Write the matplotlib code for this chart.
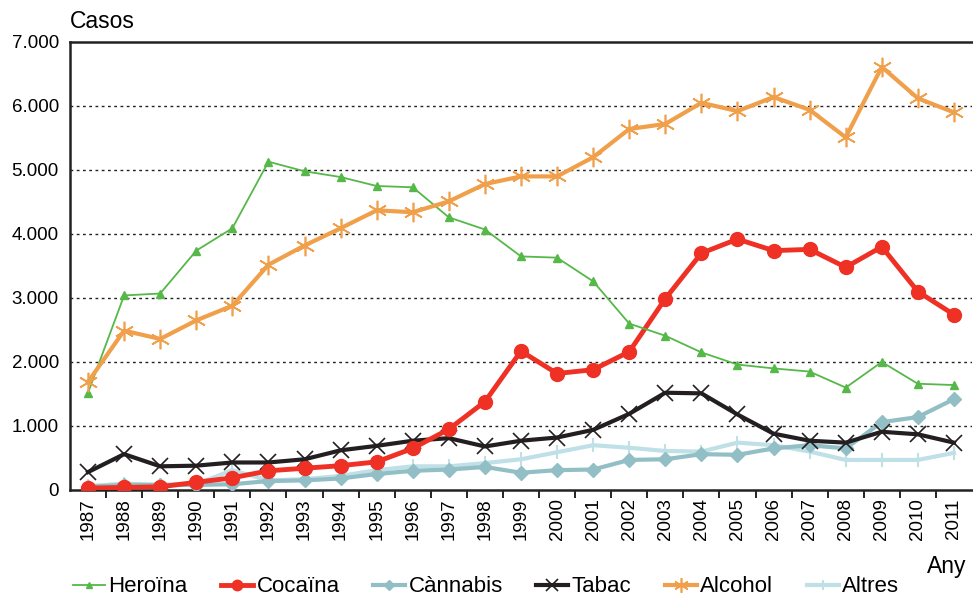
import matplotlib
matplotlib.use("Agg")
import matplotlib.pyplot as plt
from matplotlib.ticker import FixedLocator, FuncFormatter

plt.rcParams['font.family'] = ['Liberation Sans', 'DejaVu Sans']

years = list(range(1987, 2012))
heroina = [1520, 3040, 3070, 3740, 4090, 5130, 4980, 4890, 4750, 4730, 4260, 4070,
           3650, 3630, 3260, 2600, 2410, 2150, 1960, 1900, 1850, 1600, 2000, 1660, 1640]
cocaina = [30, 40, 50, 120, 190, 300, 340, 380, 440, 650, 950, 1380,
           2170, 1820, 1880, 2160, 2990, 3700, 3920, 3740, 3760, 3480, 3800, 3100, 2740]
cannabis = [50, 80, 80, 80, 90, 140, 150, 180, 250, 300, 320, 360,
            270, 310, 320, 470, 480, 560, 550, 650, 700, 650, 1060, 1140, 1420]
tabac = [280, 560, 370, 380, 430, 430, 480, 620, 690, 770, 810, 680,
         770, 820, 940, 1190, 1520, 1510, 1180, 880, 770, 740, 910, 870, 740]
alcohol = [1690, 2490, 2360, 2650, 2880, 3520, 3820, 4090, 4370, 4340, 4510, 4780,
           4900, 4900, 5200, 5640, 5720, 6050, 5920, 6140, 5940, 5510, 6610, 6120, 5900]
altres = [60, 100, 80, 90, 310, 150, 170, 220, 310, 370, 370, 420,
          480, 590, 700, 660, 610, 600, 740, 700, 600, 470, 470, 470, 580]
y_ticks = [0, 1000, 2000, 3000, 4000, 5000, 6000, 7000]

fig = plt.figure(figsize=(9.73, 5.97), dpi=100)
ax = fig.add_axes([70/973, 1-490/597, 902/973, 448/597])

ax.plot(years, altres, color='#bfe0e6', lw=3, marker='|', ms=10, mew=1.5, label='Altres', zorder=2)
ax.plot(years, cannabis, color='#92bfc6', lw=3, marker='D', ms=7, label='Cànnabis', zorder=3)
ax.plot(years, tabac, color='#231f20', lw=3, marker='x', ms=11, mew=1.2, label='Tabac', zorder=4)
ax.plot(years, cocaina, color='#ee3124', lw=3.5, marker='o', ms=10, label='Cocaïna', zorder=5)
ax.plot(years, heroina, color='#55b848', lw=1.3, marker='^', ms=6, label='Heroïna', zorder=6)
ax.plot(years, alcohol, color='#f0a04b', lw=3, marker=(6, 2, 0), ms=14, mew=1.2, label='Alcohol', zorder=7)

ax.set_xlim(1986.5, 2011.5)
ax.set_ylim(0, 7000)
ax.set_yticks(y_ticks)
ax.yaxis.set_major_formatter(FuncFormatter(lambda v, p: f"{int(v):,}".replace(',', '.')))
ax.tick_params(axis='y', length=0, labelsize=13.5, pad=8)
for v in y_ticks[1:-1]:
    ax.axhline(v, color='#222222', lw=1, ls=(0, (2, 2.5)), zorder=1)

ax.set_xticks(years)
ax.set_xticklabels([str(y) for y in years], rotation=90)
ax.xaxis.set_minor_locator(FixedLocator([y + 0.5 for y in years[:-1]]))
ax.tick_params(axis='x', which='major', length=0, labelsize=13.5, pad=6)
ax.tick_params(axis='x', which='minor', length=6, width=1.2, direction='out')

for s in ['left', 'top', 'bottom']:
    ax.spines[s].set_linewidth(1.8)
    ax.spines[s].set_color('#222222')
ax.spines['right'].set_visible(False)

fig.text(70/973, 1-22/597, 'Casos', fontsize=16.5, va='center', ha='left')
fig.text(966/973, 1-566/597, 'Any', fontsize=16.5, va='center', ha='right')

handles, labels = ax.get_legend_handles_labels()
order = ['Heroïna', 'Cocaïna', 'Cànnabis', 'Tabac', 'Alcohol', 'Altres']
hmap = dict(zip(labels, handles))
leg = fig.legend([hmap[k] for k in order], order, loc='center', bbox_to_anchor=(486/973, 1-587/597),
                 ncol=6, frameon=False, fontsize=16, handlelength=1.45, columnspacing=1.5,
                 handletextpad=0.15, markerscale=0.75, borderpad=0, borderaxespad=0)

fig.savefig('out.png', dpi=100)
